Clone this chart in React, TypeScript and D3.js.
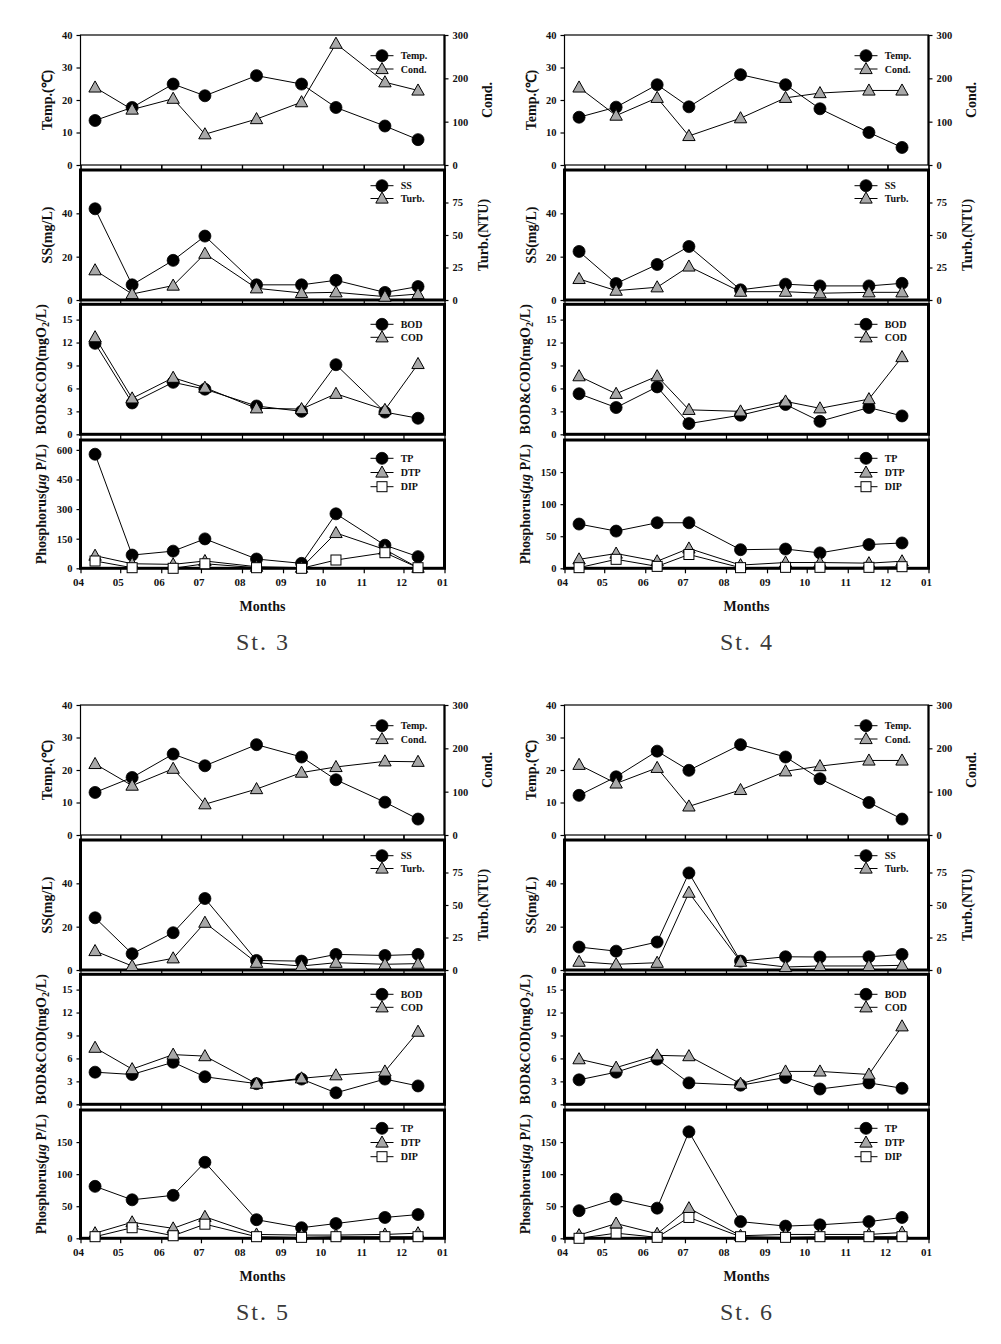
import React, { useEffect, useRef } from "react";
import * as d3 from "d3";

// ---------- DATA ----------
const sampleDates = ["2000-04-12", "2000-05-10", "2000-06-10", "2000-07-04", "2000-08-12", "2000-09-15", "2000-10-11", "2000-11-17", "2000-12-12"];
const stationNames = ["St. 3", "St. 4", "St. 5", "St. 6"];

const temp3 = [13.7, 17.7, 24.9, 21.3, 27.5, 24.9, 17.7, 12.0, 7.8];
const cond3 = [179, 128, 153, 71, 106, 145, 280, 191, 172];
const ss3 = [42.1, 7.0, 18.3, 29.5, 7.0, 7.0, 9.1, 3.5, 6.2];
const turb3 = [22.9, 4.6, 11.1, 35.6, 9.0, 5.4, 5.9, 2.6, 4.6];
const bod3 = [11.9, 4.1, 6.8, 5.9, 3.7, 3.0, 9.1, 2.9, 2.1];
const cod3 = [12.7, 4.7, 7.4, 6.1, 3.4, 3.3, 5.3, 3.2, 9.2];
const tp3 = [578, 67, 87, 149, 47, 25, 276, 117, 59];
const dtp3 = [64, 23, 20, 37, 8, 3, 179, 95, 3];
const dip3 = [37, 3, 0, 23, 3, 0, 42, 79, 3];

const temp4 = [14.7, 17.8, 24.7, 17.9, 27.8, 24.7, 17.3, 10.0, 5.4];
const cond4 = [179, 114, 155, 67, 108, 155, 166, 172, 172];
const ss4 = [22.4, 7.6, 16.4, 24.7, 4.7, 7.3, 6.5, 6.5, 7.7];
const turb4 = [16.2, 7.2, 9.8, 25.8, 6.4, 6.4, 5.2, 5.9, 5.9];
const bod4 = [5.3, 3.5, 6.2, 1.4, 2.5, 3.9, 1.7, 3.5, 2.4];
const cod4 = [7.6, 5.3, 7.6, 3.2, 3.0, 4.3, 3.4, 4.6, 10.1];
const tp4 = [69, 58, 71, 71, 29, 30, 24, 37, 39.5];
const dtp4 = [14, 23, 11, 31, 5, 9, 9, 8, 11];
const dip4 = [1, 14, 3, 21.5, 1, 1.5, 1.5, 1.5, 2.5];

const temp5 = [13.1, 17.7, 24.9, 21.3, 27.8, 24.0, 17.0, 10.1, 4.9];
const cond5 = [164, 114, 153, 71, 106, 144, 157, 170, 169];
const ss5 = [24.1, 7.5, 17.2, 33.0, 4.4, 4.1, 7.2, 6.7, 7.2];
const turb5 = [14.6, 3.1, 9.0, 36.4, 5.6, 3.1, 5.6, 4.4, 4.9];
const bod5 = [4.2, 3.9, 5.5, 3.6, 2.7, 3.3, 1.5, 3.3, 2.4];
const cod5 = [7.4, 4.6, 6.5, 6.3, 2.7, 3.4, 3.8, 4.3, 9.5];
const tp5 = [81, 60, 67, 118.5, 29, 16.5, 23, 32.5, 37];
const dtp5 = [8, 25, 15.5, 33.5, 6, 5, 5, 6, 8];
const dip5 = [2.5, 16.5, 4, 22, 2.5, 1.5, 2.5, 2.5, 2.5];

const temp6 = [12.2, 17.9, 25.8, 19.9, 27.8, 24.0, 17.3, 10.0, 4.9];
const cond6 = [162, 119, 155, 66, 104, 147, 159, 172, 172];
const ss6 = [10.6, 8.7, 12.9, 44.8, 4.1, 6.1, 6.0, 6.1, 7.2];
const turb6 = [6.4, 4.4, 5.6, 59.5, 6.4, 2.3, 3.1, 3.1, 3.6];
const bod6 = [3.2, 4.2, 5.9, 2.8, 2.5, 3.5, 2.0, 2.8, 2.1];
const cod6 = [5.9, 4.8, 6.4, 6.3, 2.7, 4.3, 4.3, 3.9, 10.2];
const tp6 = [43, 61, 47, 166, 26, 19, 21, 26, 32.5];
const dtp6 = [5, 23, 7, 47, 4, 6, 6, 6, 9];
const dip6 = [0, 8, 1.5, 32.5, 2.5, 1.5, 2.5, 2.5, 2.5];

const tempTicks = [0, 10, 20, 30, 40];
const condTicks = [0, 100, 200, 300];
const ssTicks = [0, 20, 40];
const turbTicks = [0, 25, 50, 75];
const bodTicks = [0, 3, 6, 9, 12, 15];
const pTicksSt3 = [0, 150, 300, 450, 600];
const pTicksOther = [0, 50, 100, 150];
const pMaxes = [650, 200, 200, 200];

const FONT = "'Liberation Serif','Times New Roman',serif";

type Mk = "circle" | "triangle" | "square";

function drawMarker(g: any, type: Mk, cx: number, cy: number) {
  if (type === "circle") {
    g.append("circle").attr("cx", cx).attr("cy", cy).attr("r", 6).attr("fill", "#000").attr("stroke", "#000").attr("stroke-width", 0.8);
  } else if (type === "triangle") {
    g.append("path")
      .attr("d", `M${cx},${cy - 6.5}L${cx + 6.2},${cy + 4.6}L${cx - 6.2},${cy + 4.6}Z`)
      .attr("fill", "#a8a8a8").attr("stroke", "#000").attr("stroke-width", 1);
  } else {
    g.append("rect").attr("x", cx - 5).attr("y", cy - 5).attr("width", 10).attr("height", 10)
      .attr("fill", "#fff").attr("stroke", "#000").attr("stroke-width", 1);
  }
}

export default function App() {
  const ref = useRef<SVGSVGElement>(null);
  useEffect(() => {
    document.body.style.margin = "0";
    const svg = d3.select(ref.current);
    svg.selectAll("*").remove();
    const parse = d3.timeParse("%Y-%m-%d");
    const dates = sampleDates.map((s) => parse(s) as Date);

    const stationData = [
      { temp: temp3, cond: cond3, ss: ss3, turb: turb3, bod: bod3, cod: cod3, tp: tp3, dtp: dtp3, dip: dip3, pTicks: pTicksSt3 },
      { temp: temp4, cond: cond4, ss: ss4, turb: turb4, bod: bod4, cod: cod4, tp: tp4, dtp: dtp4, dip: dip4, pTicks: pTicksOther },
      { temp: temp5, cond: cond5, ss: ss5, turb: turb5, bod: bod5, cod: cod5, tp: tp5, dtp: dtp5, dip: dip5, pTicks: pTicksOther },
      { temp: temp6, cond: cond6, ss: ss6, turb: turb6, bod: bod6, cod: cod6, tp: tp6, dtp: dtp6, dip: dip6, pTicks: pTicksOther },
    ];

    const colX = [80.5, 564.5];
    const plotW = 364;
    const rowY = [0, 670];
    const panelY = [
      [35, 165],
      [170, 300],
      [304.3, 434.3],
      [440, 568.3],
    ];

    stationData.forEach((st, i) => {
      const col = i % 2;
      const row = Math.floor(i / 2);
      const x0 = colX[col];
      const x1 = x0 + plotW;
      const oy = rowY[row];
      const x = d3.scaleTime().domain([new Date(2000, 3, 1), new Date(2001, 0, 1)]).range([x0, x1]);
      const g = svg.append("g");

      const panels = [
        {
          left: { domain: [0, 40], ticks: tempTicks, title: "Temp.(℃)", tx: -33.5 },
          right: { domain: [0, 300], ticks: condTicks, title: "Cond.", tx: 43 },
          series: [
            { v: st.temp, axis: "L", mk: "circle" as Mk, label: "Temp." },
            { v: st.cond, axis: "R", mk: "triangle" as Mk, label: "Cond." },
          ],
          thin: true, legTop: 20.7, legGap: 13.3,
        },
        {
          left: { domain: [0, 60], ticks: ssTicks, title: "SS(mg/L)", tx: -33.5 },
          right: { domain: [0, 100], ticks: turbTicks, title: "Turb.(NTU)", tx: 38.5 },
          series: [
            { v: st.ss, axis: "L", mk: "circle" as Mk, label: "SS" },
            { v: st.turb, axis: "R", mk: "triangle" as Mk, label: "Turb." },
          ],
          thin: false, legTop: 15.7, legGap: 12.8,
        },
        {
          left: { domain: [0, 17], ticks: bodTicks, title: "BOD", tx: -39.5 },
          right: null,
          series: [
            { v: st.bod, axis: "L", mk: "circle" as Mk, label: "BOD" },
            { v: st.cod, axis: "L", mk: "triangle" as Mk, label: "COD" },
          ],
          thin: false, legTop: 20, legGap: 13,
        },
        {
          left: { domain: [0, pMaxes[i]], ticks: st.pTicks, title: "P", tx: -39.5 },
          right: null,
          series: [
            { v: st.tp, axis: "L", mk: "circle" as Mk, label: "TP" },
            { v: st.dtp, axis: "L", mk: "triangle" as Mk, label: "DTP" },
            { v: st.dip, axis: "L", mk: "square" as Mk, label: "DIP" },
          ],
          thin: false, legTop: 18.3, legGap: 14.2,
        },
      ];

      panels.forEach((p, pi) => {
        const top = oy + panelY[pi][0];
        const bot = oy + panelY[pi][1];
        const yL = d3.scaleLinear().domain(p.left.domain).range([bot, top]);
        const yR = p.right ? d3.scaleLinear().domain(p.right.domain).range([bot, top]) : yL;
        const pg = g.append("g");

        // frame
        if (p.thin) {
          pg.append("rect").attr("x", x0).attr("y", top).attr("width", plotW).attr("height", bot - top)
            .attr("fill", "none").attr("stroke", "#000").attr("stroke-width", 1.2);
          pg.append("line").attr("x1", x1).attr("x2", x1).attr("y1", top).attr("y2", bot)
            .attr("stroke", "#000").attr("stroke-width", 2.2);
        } else {
          pg.append("rect").attr("x", x0).attr("y", top).attr("width", plotW).attr("height", bot - top)
            .attr("fill", "none").attr("stroke", "#000").attr("stroke-width", 3);
        }

        const styleAxis = (ag: any) => {
          ag.select(".domain").remove();
          ag.selectAll("line").attr("stroke", "#000").attr("stroke-width", 1.2);
          ag.selectAll("text").attr("font-family", FONT).attr("font-weight", "bold").attr("font-size", 10.5).attr("fill", "#111");
        };

        // left axis
        const la = pg.append("g").attr("transform", `translate(${x0},0)`)
          .call(d3.axisLeft(yL).tickValues(p.left.ticks).tickSize(4).tickPadding(4).tickFormat(d3.format("d")));
        styleAxis(la);
        if (p.right) {
          const ra = pg.append("g").attr("transform", `translate(${x1},0)`)
            .call(d3.axisRight(yR).tickValues(p.right.ticks).tickSize(4).tickPadding(4).tickFormat(d3.format("d")));
          styleAxis(ra);
        }

        // month ticks
        if (pi === 0) {
          const ba = pg.append("g").attr("transform", `translate(0,${bot})`)
            .call(d3.axisBottom(x).ticks(d3.timeMonth.every(1)).tickSize(5).tickFormat(() => ""));
          styleAxis(ba);
        } else {
          const ta = pg.append("g").attr("transform", `translate(0,${top})`)
            .call(d3.axisTop(x).ticks(d3.timeMonth.every(1)).tickSize(5).tickFormat(() => ""));
          styleAxis(ta);
        }
        if (pi === 3) {
          const ba = pg.append("g").attr("transform", `translate(0,${bot})`)
            .call(d3.axisBottom(x).ticks(d3.timeMonth.every(1)).tickSize(5).tickPadding(5).tickFormat(d3.timeFormat("%m") as any));
          styleAxis(ba);
          ba.selectAll("text").attr("font-size", 11).attr("dx", -2.5);
        }

        // axis titles
        const lt = pg.append("text")
          .attr("transform", `translate(${x0 + p.left.tx},${(top + bot) / 2}) rotate(-90)`)
          .attr("text-anchor", "middle").attr("dominant-baseline", "central")
          .attr("font-family", FONT).attr("font-weight", "bold").attr("font-size", 14).attr("fill", "#111");
        if (p.left.title === "BOD") {
          lt.append("tspan").text("BOD&COD(mgO");
          lt.append("tspan").attr("dy", 4).attr("font-size", 10).text("2");
          lt.append("tspan").attr("dy", -4).text("/L)");
        } else if (p.left.title === "P") {
          lt.append("tspan").text("Phosphorus(");
          lt.append("tspan").attr("font-style", "italic").text("μg");
          lt.append("tspan").text(" P/L)");
        } else {
          lt.text(p.left.title);
        }
        if (p.right) {
          pg.append("text")
            .attr("transform", `translate(${x1 + p.right.tx},${(top + bot) / 2}) rotate(-90)`)
            .attr("text-anchor", "middle").attr("dominant-baseline", "central")
            .attr("font-family", FONT).attr("font-weight", "bold").attr("font-size", 14).attr("fill", "#111")
            .text(p.right.title);
        }

        // series
        p.series.forEach((s) => {
          const ys = s.axis === "L" ? yL : yR;
          const pts = s.v.map((v, k) => ({ d: dates[k], v }));
          const line = d3.line<{ d: Date; v: number }>().x((d) => x(d.d)).y((d) => ys(d.v));
          const sg = pg.append("g");
          sg.append("path").attr("d", line(pts) as string).attr("fill", "none").attr("stroke", "#000").attr("stroke-width", 1);
          pts.forEach((d) => drawMarker(sg, s.mk, x(d.d), ys(d.v)));
        });

        // legend
        p.series.forEach((s, k) => {
          const ly = top + p.legTop + k * p.legGap;
          const lg = pg.append("g");
          lg.append("line").attr("x1", x1 - 74).attr("x2", x1 - 51).attr("y1", ly).attr("y2", ly).attr("stroke", "#000").attr("stroke-width", 1);
          drawMarker(lg, s.mk, x1 - 62.5, ly);
          lg.append("text").attr("x", x1 - 43.8).attr("y", ly).attr("dominant-baseline", "central")
            .attr("font-family", FONT).attr("font-weight", "bold").attr("font-size", 10).attr("fill", "#111").text(s.label);
        });
      });

      // Months label and station name
      g.append("text").attr("x", (x0 + x1) / 2).attr("y", oy + 611).attr("text-anchor", "middle")
        .attr("font-family", FONT).attr("font-weight", "bold").attr("font-size", 14).attr("fill", "#111").text("Months");
      g.append("text").attr("x", (x0 + x1) / 2 + 0.5).attr("y", oy + 650).attr("text-anchor", "middle")
        .attr("font-family", FONT).attr("font-size", 24).attr("letter-spacing", 2).attr("fill", "#3a3a3a").text(stationNames[i]);
    });
  }, []);

  return <svg ref={ref} width={1001} height={1344} style={{ display: "block", background: "#fff" }} />;
}
